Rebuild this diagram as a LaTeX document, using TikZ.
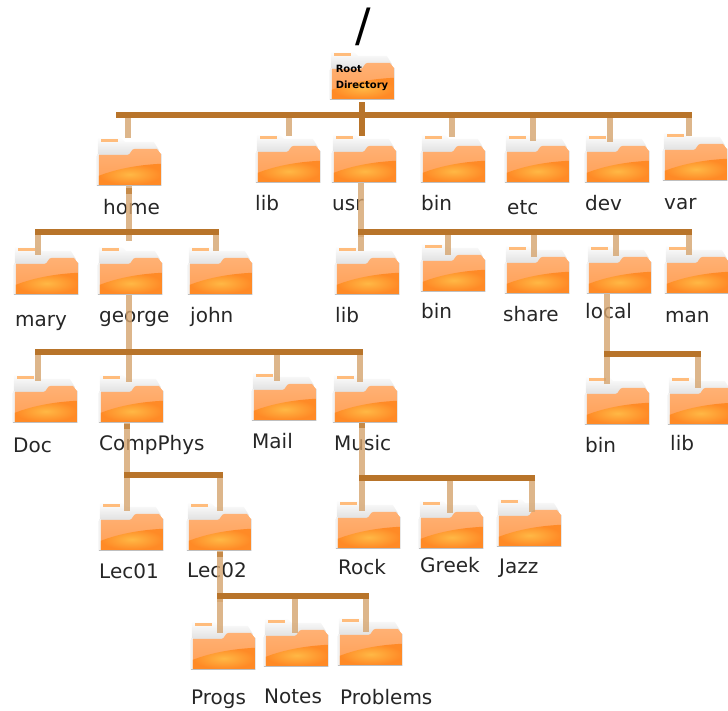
\documentclass[tikz,border=0pt]{standalone}
\usepackage{fontspec}
\setmainfont{DejaVu Sans}
\definecolor{busbrown}{HTML}{B8742A}
\definecolor{stemtan}{HTML}{D5A46E}
\definecolor{stubtan}{HTML}{C68A48}
\definecolor{foldertop}{HTML}{FFB174}
\definecolor{foldermid}{HTML}{FF9F55}
\definecolor{folderlow}{HTML}{FF8A26}
\definecolor{folderhi}{HTML}{FFB845}
\definecolor{paperlo}{HTML}{E0E0E0}
\definecolor{tabmark}{HTML}{FFBC7C}
\tikzset{
  folder/.style={minimum width=64pt,minimum height=50pt,inner sep=0pt},
  dirlabel/.style={anchor=west,inner sep=0pt,text height=14pt,text depth=0pt,
    font=\fontsize{20}{22}\selectfont,text=black!85},
  stem/.style={stemtan,line width=6pt,opacity=0.8},
  stub/.style={stubtan,line width=6pt},
  bus/.style={busbrown,line width=6pt,line cap=rect},
  trunk/.style={busbrown,line width=6pt}
}
\begin{document}
\begin{tikzpicture}[x=1pt,y=-1pt]
  \useasboundingbox (0,0) rectangle (728,711);
  % folders
  \draw
    (362,75) node[folder] (root){}
    (129,161) node[folder] (home){}
    (288,158) node[folder] (lib){}
    (364,158) node[folder] (usr){}
    (453,158) node[folder] (bin){}
    (537,158) node[folder] (etc){}
    (617,158) node[folder] (dev){}
    (695,156) node[folder] (var){}
    (46,270) node[folder] (mary){}
    (130,270) node[folder] (george){}
    (220,270) node[folder] (john){}
    (367,270) node[folder] (usrlib){}
    (453,267) node[folder] (usrbin){}
    (537,269) node[folder] (share){}
    (619,269) node[folder] (local){}
    (697,269) node[folder] (man){}
    (45,398) node[folder] (doc){}
    (131,398) node[folder] (compphys){}
    (284,396) node[folder] (mail){}
    (365,398) node[folder] (music){}
    (617,400) node[folder] (localbin){}
    (700,400) node[folder] (locallib){}
    (131,526) node[folder] (lec01){}
    (219,526) node[folder] (lec02){}
    (368,524) node[folder] (rock){}
    (451,524) node[folder] (greek){}
    (529,522) node[folder] (jazz){}
    (223,645) node[folder] (progs){}
    (296,642) node[folder] (notes){}
    (370,641) node[folder] (problems){};
  \foreach \f in {root,home,lib,usr,bin,etc,dev,var,mary,george,john,usrlib,usrbin,share,local,man,
      doc,compphys,mail,music,localbin,locallib,lec01,lec02,rock,greek,jazz,progs,notes,problems}{
    \begin{scope}[shift={(\f.north west)}]
      \fill[gray!50] (0,20) -- (0,50) -- (64.5,50) -- (64.5,18) -- cycle;
      \shade[top color=white,bottom color=paperlo]
        (1,1) -- (23,1) -- (28,6) -- (57,6) -- (62,14) -- (62,20) -- (1,20) -- cycle;
      \fill[white!90!gray] (0.5,18) rectangle (2,49);
      \fill[tabmark] (4,3.5) rectangle (21,6);
      \shade[top color=foldertop,bottom color=foldermid]
        (2,19) -- (31,19) .. controls (34,19) and (34,13) .. (38,13) -- (60,13)
        -- (64,18) -- (64,49) -- (2,49) -- cycle;
      \shade[inner color=folderhi,outer color=folderlow]
        (2,40) .. controls (20,33) and (42,29) .. (64,28) -- (64,49) -- (2,49) -- cycle;
    \end{scope}
  }
  % labels
  \node[font=\fontsize{46}{50}\selectfont,inner sep=0pt] (slash) at (363,27) {/};
  \node[align=left,inner sep=0pt,font=\bfseries\fontsize{10}{16}\selectfont] (troot) at (362,78) {Root\\Directory};
  \draw
    (103,208) node[dirlabel] (thome){home}
    (255,204) node[dirlabel] (tlib){lib}
    (332,204) node[dirlabel] (tusr){usr}
    (421,204) node[dirlabel] (tbin){bin}
    (507,208) node[dirlabel] (tetc){etc}
    (585,204) node[dirlabel] (tdev){dev}
    (664,203) node[dirlabel] (tvar){var}
    (15,319) node[dirlabel] (tmary){mary}
    (99,316) node[dirlabel] (tgeorge){george}
    (190,315) node[dirlabel] (tjohn){john}
    (335,315) node[dirlabel] (tusrlib){lib}
    (421,311) node[dirlabel] (tusrbin){bin}
    (503,314) node[dirlabel] (tshare){share}
    (585,311) node[dirlabel] (tlocal){local}
    (665,316) node[dirlabel] (tman){man}
    (13,445) node[dirlabel] (tdoc){Doc}
    (99,443) node[dirlabel] (tcompphys){CompPhys}
    (252,441) node[dirlabel] (tmail){Mail}
    (334,443) node[dirlabel] (tmusic){Music}
    (585,445) node[dirlabel] (tlocalbin){bin}
    (670,443) node[dirlabel] (tlocallib){lib}
    (99,571) node[dirlabel] (tlec01){Lec01}
    (187,570) node[dirlabel] (tlec02){Lec02}
    (338,567) node[dirlabel] (trock){Rock}
    (420,565) node[dirlabel] (tgreek){Greek}
    (499,566) node[dirlabel] (tjazz){Jazz}
    (191,697) node[dirlabel] (tprogs){Progs}
    (264,696) node[dirlabel] (tnotes){Notes}
    (340,697) node[dirlabel] (tproblems){Problems};
  % joints on the bars
  \draw
    (362,115) coordinate (jroot)
    (119,115) coordinate (jleft)
    (128,115) coordinate (jhome)
    (289,115) coordinate (jlib)
    (362,136) coordinate (jusr)
    (452,115) coordinate (jbin)
    (533,115) coordinate (jetc)
    (610,115) coordinate (jdev)
    (689,115) coordinate (jvar)
    (38,232) coordinate (jmary)
    (129,232) coordinate (jgeorge)
    (216,232) coordinate (jjohn)
    (361,232) coordinate (jusrlib)
    (448,232) coordinate (jusrbin)
    (534,232) coordinate (jshare)
    (616,232) coordinate (jlocal)
    (689,232) coordinate (jman)
    (38,352) coordinate (jdoc)
    (129,352) coordinate (jcompphys)
    (277,352) coordinate (jmail)
    (360,352) coordinate (jmusic)
    (607,354) coordinate (jlocalbin)
    (698,354) coordinate (jlocallib)
    (127,475) coordinate (jlec01)
    (220,475) coordinate (jlec02)
    (362,478) coordinate (jrock)
    (450,478) coordinate (jgreek)
    (532,478) coordinate (jjazz)
    (220,596) coordinate (jprogs)
    (295,596) coordinate (jnotes)
    (366,596) coordinate (jproblems);
  \begin{scope}[stem]
    \draw[shorten >=-2pt] (jhome) to (jhome |- home.north);
    \draw[shorten >=-3pt] (jlib) to (jlib |- lib.north);
    \draw[shorten >=-4pt] (jbin) to (jbin |- bin.north);
    \draw[shorten >=-8pt] (jetc) to (jetc |- etc.north);
    \draw[shorten >=-9pt] (jdev) to (jdev |- dev.north);
    \draw[shorten >=-5pt] (jvar) to (jvar |- var.north);
    \draw[shorten >=-10pt] (jmary) to (jmary |- mary.north);
    \draw[shorten >=-6pt] (jjohn) to (jjohn |- john.north);
    \draw[shorten >=-6pt] (jusrlib) to (jusrlib |- usrlib.north);
    \draw[shorten >=-13pt] (jusrbin) to (jusrbin |- usrbin.north);
    \draw[shorten >=-13pt] (jshare) to (jshare |- share.north);
    \draw[shorten >=-12pt] (jlocal) to (jlocal |- local.north);
    \draw[shorten >=-11pt] (jman) to (jman |- man.north);
    \draw[shorten >=-8pt] (jdoc) to (jdoc |- doc.north);
    \draw[shorten >=-9pt] (jcompphys) to (jcompphys |- compphys.north);
    \draw[shorten >=-10pt] (jmail) to (jmail |- mail.north);
    \draw[shorten >=-9pt] (jmusic) to (jmusic |- music.north);
    \draw[shorten >=-9pt] (jlocalbin) to (jlocalbin |- localbin.north);
    \draw[shorten >=-13pt] (jlocallib) to (jlocallib |- locallib.north);
    \draw[shorten >=-10pt] (jlec01) to (jlec01 |- lec01.north);
    \draw[shorten >=-10pt] (jlec02) to (jlec02 |- lec02.north);
    \draw[shorten >=-12pt] (jrock) to (jrock |- rock.north);
    \draw[shorten >=-14pt] (jgreek) to (jgreek |- greek.north);
    \draw[shorten >=-15pt] (jjazz) to (jjazz |- jazz.north);
    \draw[shorten >=-13pt] (jprogs) to (jprogs |- progs.north);
    \draw[shorten >=-16pt] (jnotes) to (jnotes |- notes.north);
    \draw[shorten >=-16pt] (jproblems) to (jproblems |- problems.north);
    \draw[shorten >=-9pt] (jgeorge |- home.south) to (jgeorge);
    \draw[shorten >=-5pt] (jusrlib |- usr.south) to (jusrlib);
    \draw (jcompphys |- george.south) to (jcompphys);
    \draw (jlocalbin |- local.south) to (jlocalbin);
    \draw (jlec01 |- compphys.south) to (jlec01);
    \draw (jrock |- music.south) to (jrock);
    \draw[shorten >=-6pt] (jlec02 |- lec02.south) to (jprogs);
  \end{scope}
  % darker starts under the parent folders
  \draw[stub] (jgeorge |- home.south) ++(0,2) to ++(0,6);
  \draw[stub] (jlec01 |- compphys.south) ++(0,1) to ++(0,5);
  \draw[stub] (jrock |- music.south) ++(0,0) to ++(0,5);
  \draw[stub] (jlec02 |- lec02.south) ++(0,1) to ++(0,5);
  \draw[trunk,shorten <=2pt] (jroot |- root.south) to (jusr);
  \begin{scope}[bus]
    \draw (jleft) to (jvar);
    \draw (jmary) to (jjohn);
    \draw (jusrlib) to (jman);
    \draw (jdoc) to (jmusic);
    \draw (jlocalbin) to (jlocallib);
    \draw (jlec01) to (jlec02);
    \draw (jrock) to (jjazz);
    \draw (jprogs) to (jproblems);
  \end{scope}
\end{tikzpicture}
\end{document}
